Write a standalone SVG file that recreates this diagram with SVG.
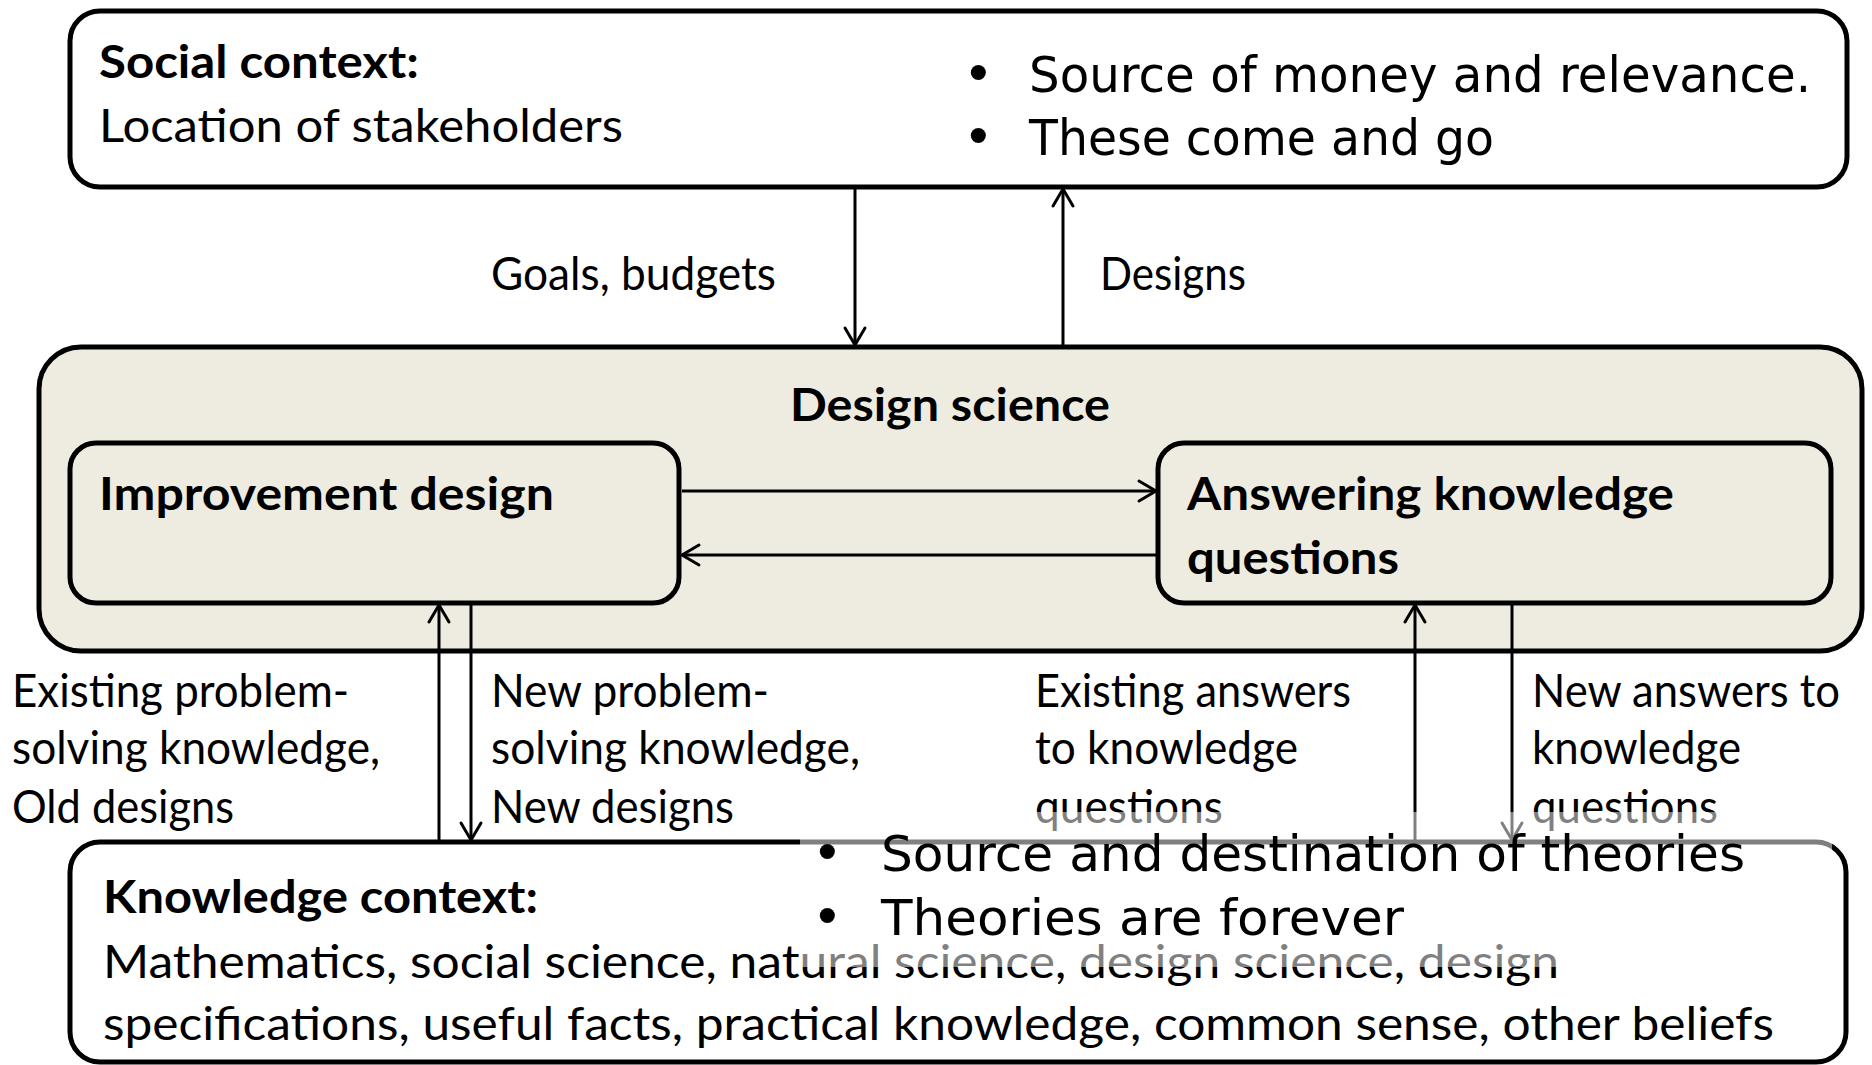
<svg xmlns="http://www.w3.org/2000/svg" width="1872" height="1065" viewBox="0 0 1872 1065">
<defs>
<style>
.box{fill:#ffffff;stroke:#000;stroke-width:5}
.ds{fill:#EEECE1;stroke:#000;stroke-width:5}
.t{font-family:Lato,"Liberation Sans",sans-serif;font-size:46px;fill:#000}
.b{font-family:Lato,"Liberation Sans",sans-serif;font-size:46px;font-weight:bold;fill:#000}
.c{font-family:"Comic Sans MS","DejaVu Sans",sans-serif;font-size:49px;fill:#000}
.bul{font-family:"DejaVu Sans",sans-serif;font-size:52px;fill:#000}
.ln{fill:none;stroke:#000;stroke-width:3;marker-end:url(#ah)}
</style>
<marker id="ah" markerUnits="userSpaceOnUse" viewBox="-20 -13 23 26" markerWidth="23" markerHeight="26" refX="0" refY="0" orient="auto" overflow="visible">
<path d="M-17,-10 L0,0 L-17,10" fill="none" stroke="#000" stroke-width="3" stroke-linejoin="round" stroke-linecap="round"/>
</marker>
</defs>
<rect width="1872" height="1065" fill="#fff"/>

<g id="social-context">
<rect class="box" x="70" y="11" width="1777" height="176" rx="30"/>
<text class="b" x="99" y="78" textLength="320" lengthAdjust="spacingAndGlyphs">Social context:</text>
<text class="t" x="99" y="142" textLength="524" lengthAdjust="spacingAndGlyphs">Location of stakeholders</text>
<text class="bul" x="963" y="92">•</text>
<text class="c" x="1029" y="92" textLength="782" lengthAdjust="spacingAndGlyphs">Source of money and relevance.</text>
<text class="bul" x="963" y="155">•</text>
<text class="c" x="1029" y="155" textLength="465" lengthAdjust="spacingAndGlyphs">These come and go</text>
</g>

<g id="design-science">
<rect class="ds" x="39" y="347" width="1823" height="304" rx="42"/>
<text class="b" x="790" y="421" textLength="320" lengthAdjust="spacingAndGlyphs">Design science</text>
</g>

<g id="improvement-design">
<rect class="ds" x="70" y="443" width="609" height="160" rx="26"/>
<text class="b" x="99" y="510" textLength="455" lengthAdjust="spacingAndGlyphs">Improvement design</text>
</g>

<g id="answering-knowledge-questions">
<rect class="ds" x="1158" y="443" width="673" height="160" rx="26"/>
<text class="b" x="1187" y="510" textLength="487" lengthAdjust="spacingAndGlyphs">Answering knowledge</text>
<text class="b" x="1187" y="574" textLength="212" lengthAdjust="spacingAndGlyphs">questions</text>
</g>

<g id="knowledge-context">
<rect class="box" x="70" y="842" width="1776" height="220" rx="30"/>
<text class="b" x="103" y="913" textLength="435" lengthAdjust="spacingAndGlyphs">Knowledge context:</text>
<text class="t" x="103" y="978" textLength="1456" lengthAdjust="spacingAndGlyphs">Mathematics, social science, natural science, design science, design</text>
<text class="t" x="103" y="1040" textLength="1671" lengthAdjust="spacingAndGlyphs">specifications, useful facts, practical knowledge, common sense, other beliefs</text>
</g>

<g id="connectors">
<path class="ln" d="M855,189 V345"/>
<path class="ln" d="M1063,345 V189"/>
<path class="ln" d="M682,491 H1156"/>
<path class="ln" d="M1156,555 H682"/>
<path class="ln" d="M439,840 V605"/>
<path class="ln" d="M471,605 V840"/>
<path class="ln" d="M1415,840 V605"/>
<path class="ln" d="M1512,605 V840"/>
<text class="t" x="491" y="290" textLength="285" lengthAdjust="spacingAndGlyphs">Goals, budgets</text>
<text class="t" x="1100" y="290" textLength="146" lengthAdjust="spacingAndGlyphs">Designs</text>
<text class="t" x="12" y="707" textLength="337" lengthAdjust="spacingAndGlyphs">Existing problem-</text>
<text class="t" x="12" y="764" textLength="368" lengthAdjust="spacingAndGlyphs">solving knowledge,</text>
<text class="t" x="12" y="823" textLength="222" lengthAdjust="spacingAndGlyphs">Old designs</text>
<text class="t" x="491" y="707" textLength="278" lengthAdjust="spacingAndGlyphs">New problem-</text>
<text class="t" x="491" y="764" textLength="369" lengthAdjust="spacingAndGlyphs">solving knowledge,</text>
<text class="t" x="491" y="823" textLength="243" lengthAdjust="spacingAndGlyphs">New designs</text>
<text class="t" x="1035" y="707" textLength="316" lengthAdjust="spacingAndGlyphs">Existing answers</text>
<text class="t" x="1035" y="764" textLength="263" lengthAdjust="spacingAndGlyphs">to knowledge</text>
<text class="t" x="1035" y="823" textLength="188" lengthAdjust="spacingAndGlyphs">questions</text>
<text class="t" x="1532" y="707" textLength="308" lengthAdjust="spacingAndGlyphs">New answers to</text>
<text class="t" x="1532" y="764" textLength="209" lengthAdjust="spacingAndGlyphs">knowledge</text>
<text class="t" x="1532" y="823" textLength="186" lengthAdjust="spacingAndGlyphs">questions</text>
</g>

<g id="theories-note">
<rect x="800" y="812" width="1032" height="155" fill="#ffffff" fill-opacity="0.5"/>
<text class="bul" x="812" y="871">•</text>
<text class="c" x="881" y="871" textLength="864" lengthAdjust="spacingAndGlyphs">Source and destination of theories</text>
<text class="bul" x="812" y="935">•</text>
<text class="c" x="881" y="935" textLength="523" lengthAdjust="spacingAndGlyphs">Theories are forever</text>
</g>
</svg>
